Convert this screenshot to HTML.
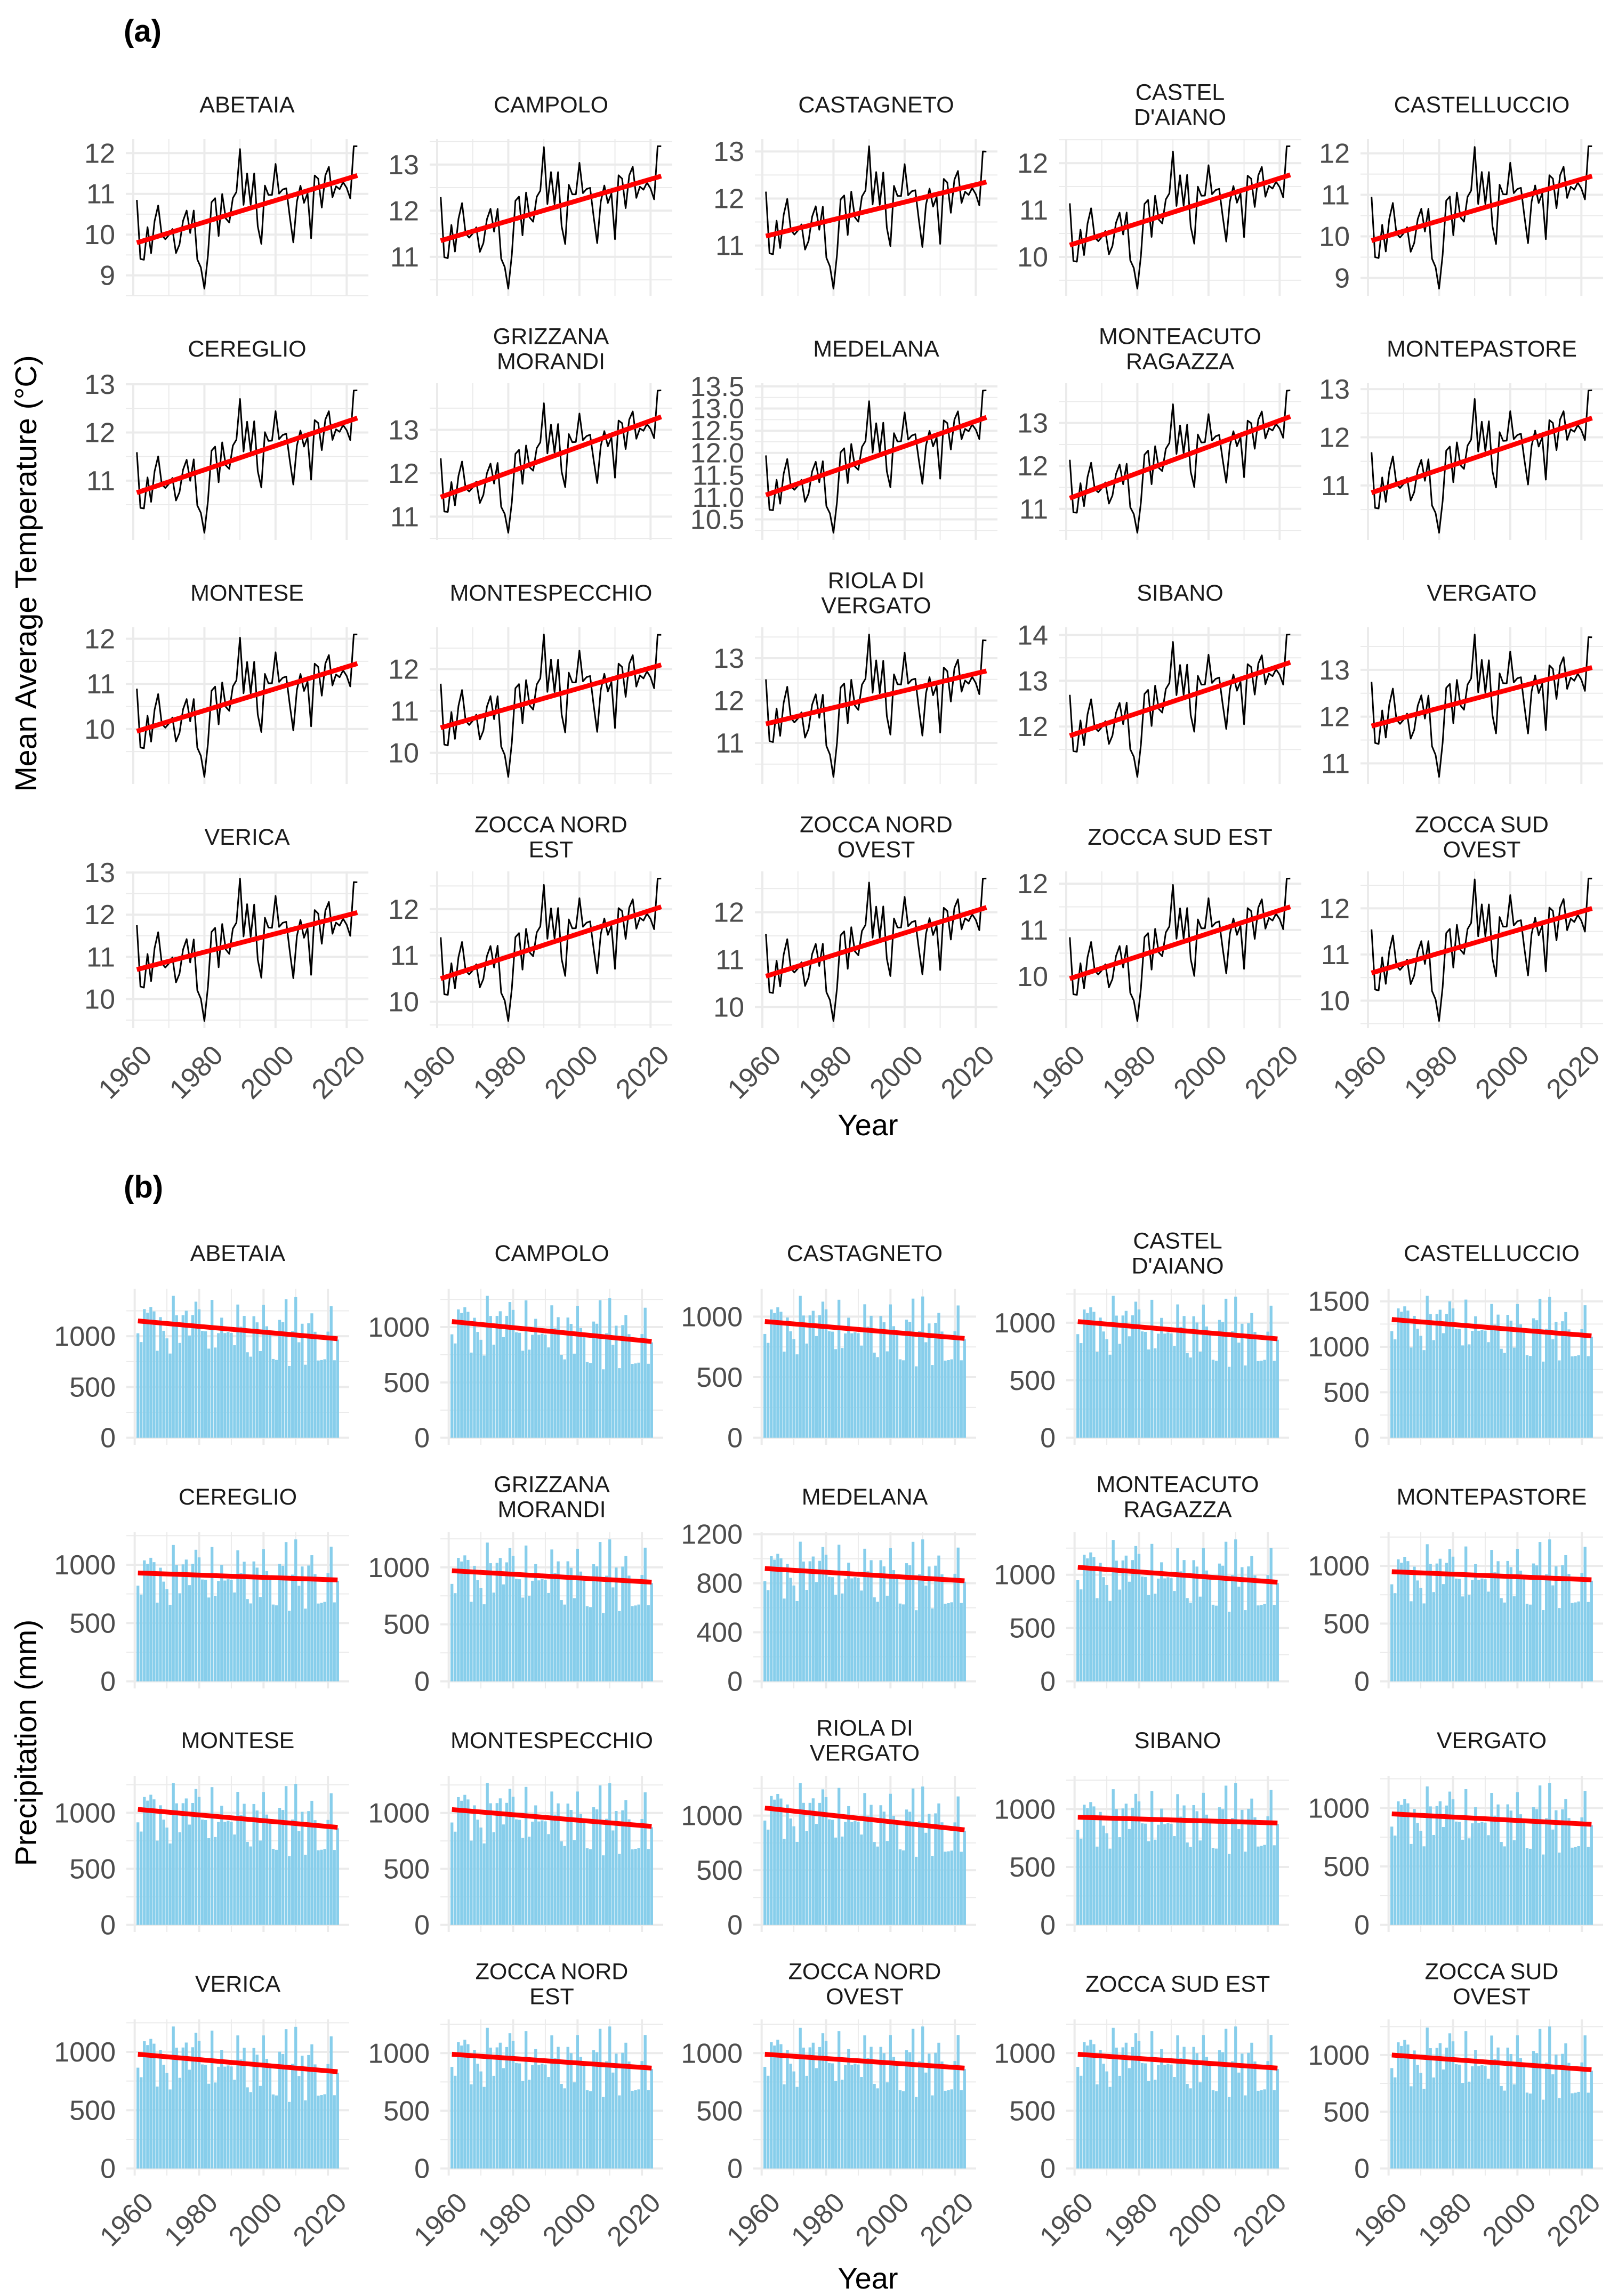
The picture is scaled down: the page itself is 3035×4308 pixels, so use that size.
<!DOCTYPE html>
<html><head><meta charset="utf-8"><style>
html,body{margin:0;padding:0;background:#fff}
svg{display:block;font-family:"Liberation Sans",Arial,sans-serif}
</style></head><body>
<svg id="fig" width="3035" height="4308" viewBox="0 0 3035 4308" xmlns="http://www.w3.org/2000/svg">
<rect width="3035" height="4308" fill="#fff"/>
<text x="232" y="78" font-size="58" font-weight="bold">(a)</text>
<text x="232" y="2247" font-size="58" font-weight="bold">(b)</text>
<text transform="translate(68,1076) rotate(-90)" text-anchor="middle" font-size="57">Mean Average Temperature (°C)</text>
<text transform="translate(68,3270) rotate(-90)" text-anchor="middle" font-size="57">Precipitation (mm)</text>
<text x="1628" y="2130" text-anchor="middle" font-size="56">Year</text>
<text x="1628" y="4294" text-anchor="middle" font-size="56">Year</text>
<g id="panels"></g>
</svg>
<script>
const stations = ["ABETAIA","CAMPOLO","CASTAGNETO","CASTEL\nD'AIANO","CASTELLUCCIO","CEREGLIO","GRIZZANA\nMORANDI","MEDELANA","MONTEACUTO\nRAGAZZA","MONTEPASTORE","MONTESE","MONTESPECCHIO","RIOLA DI\nVERGATO","SIBANO","VERGATO","VERICA","ZOCCA NORD\nEST","ZOCCA NORD\nOVEST","ZOCCA SUD EST","ZOCCA SUD\nOVEST"];
const firstYear = 1961;
// regional reference temperature series (ABETAIA, 1961-2023)
const regionalTemp = [10.87,9.42,9.40,10.2,9.56,10.35,10.73,10.0,9.9,10.0,10.15,9.56,9.77,10.35,10.6,10.05,10.6,9.4,9.2,8.68,9.5,10.8,10.9,9.97,11.0,10.4,10.3,10.9,11.05,12.1,10.73,11.5,10.73,11.5,10.2,9.77,11.2,10.97,10.97,11.73,11.0,11.1,11.13,10.43,9.8,10.8,11.19,10.77,11.0,9.9,11.44,11.36,10.65,11.44,11.65,10.9,11.17,11.1,11.27,11.13,10.87,12.15,12.15];
const tempStart = [9.8,11.35,11.2,10.25,9.9,10.75,11.45,11.05,11.25,10.85,9.95,10.6,11.45,11.8,11.8,10.7,10.5,10.65,9.95,10.6];
const tempEnd = [11.45,12.75,12.35,11.75,11.45,12.3,13.3,12.8,13.15,12.4,11.45,12.1,12.7,13.4,13.05,12.05,12.05,12.1,11.5,12.0];
const tempAmp = [1,0.9,0.9,0.85,1.0,0.8,0.85,0.85,0.85,0.8,0.9,1.0,1.0,0.85,0.9,1.0,0.85,0.85,0.85,0.9];
const tempTicks = [[9,10,11,12],[11,12,13],[11,12,13],[10,11,12],[9,10,11,12],[11,12,13],[11,12,13],[10.5,11.0,11.5,12.0,12.5,13.0,13.5],[11,12,13],[11,12,13],[10,11,12],[10,11,12,13],[10,11,12,13],[12,13,14],[11,12,13],[10,11,12,13],[10,11,12],[10,11,12,13],[10,11,12],[10,11,12,13]];
// regional reference precipitation (ABETAIA, mm, 1961-2023)
const regionalPrec = [1040,953,1277,1242,1297,1253,865,1196,1061,986,836,1404,1212,939,1212,1256,1010,1212,1343,1268,1055,1050,879,1358,889,1030,1182,1030,1040,1030,909,1309,1091,1196,838,794,1192,1131,848,1303,1091,1030,768,758,1152,1131,1355,697,1040,1374,929,1111,707,1116,1212,1030,747,751,758,1030,1280,747,950];
const precStart = [1150,1050,960,1010,1300,930,970,920,1070,950,1030,1030,1070,930,950,980,990,990,990,1000];
const precEnd = [975,870,820,860,1120,870,870,820,930,880,870,880,870,880,860,830,870,870,870,870];
const precAmp = [1,0.95,0.85,0.9,1.05,0.9,0.95,0.85,1.0,0.9,0.95,0.95,0.95,0.9,0.9,0.95,0.9,0.9,0.9,0.95];
const precTicks = [[0,500,1000],[0,500,1000],[0,500,1000],[0,500,1000],[0,500,1000,1500],[0,500,1000],[0,500,1000],[0,400,800,1200],[0,500,1000,1500],[0,500,1000],[0,500,1000],[0,500,1000],[0,500,1000],[0,500,1000],[0,500,1000],[0,500,1000],[0,500,1000],[0,500,1000],[0,500,1000],[0,500,1000]];
const yearTicks = [1960,1980,2000,2020];

const NS = "http://www.w3.org/2000/svg";
const root = document.getElementById("panels");
function mk(tag, attrs, parent){const e=document.createElementNS(NS,tag);for(const k in attrs)e.setAttribute(k,attrs[k]);(parent||root).appendChild(e);return e;}
function fit(ys){const n=ys.length;let sx=0,sy=0,sxx=0,sxy=0;for(let i=0;i<n;i++){sx+=i;sy+=ys[i];sxx+=i*i;sxy+=i*ys[i];}const b=(n*sxy-sx*sy)/(n*sxx-sx*sx);const a=(sy-b*sx)/n;return [a,b];}
function series(ref,s,start,end,amp){const f=fit(ref);const n=ref.length;const out=[];for(let i=0;i<n;i++){const an=ref[i]-(f[0]+f[1]*i);out.push(start[s]+(end[s]-start[s])*i/(n-1)+amp[s]*an);}return out;}

const tLeft=[236,806,1416,1986,2552], tW=455, tTop0=261, tPitch=458, tH=294;
const pLeft=[237,826,1413,2000,2589], pW=418, pTop0=2418, pPitch=457, pH=293;

function drawPanel(kind,s){
  const col=s%5,row=Math.floor(s/5);
  const isT=kind==="temp";
  const L=isT?tLeft[col]:pLeft[col], W=isT?tW:pW;
  const T=isT?tTop0+row*tPitch:pTop0+row*pPitch, H=isT?tH:pH;
  const vals=isT?series(regionalTemp,s,tempStart,tempEnd,tempAmp):series(regionalPrec,s,precStart,precEnd,precAmp);
  const n=vals.length;
  const g=mk("g",{});
  
  
  let x0,x1;
  if(isT){x0=firstYear-0.05*(n-1);x1=firstYear+(n-1)+0.05*(n-1);}
  else{const a=firstYear-0.45,b=firstYear+n-1+0.45;x0=a-0.05*(b-a);x1=b+0.05*(b-a);}
  let lo,hi;
  if(isT){lo=Math.min(...vals);hi=Math.max(...vals);}else{lo=0;hi=Math.max(...vals);}
  const r=hi-lo; const y0=lo-0.05*r,y1=hi+0.05*r;
  const X=v=>L+(v-x0)/(x1-x0)*W;
  const Y=v=>T+H-(v-y0)/(y1-y0)*H;
  const ticks=isT?tempTicks[s]:precTicks[s];
  const step=ticks[1]-ticks[0];
  for(let k=-1;k<ticks.length;k++){const v=ticks[0]+(k+0.5)*step;if(v>y0&&v<y1){const gl=mk("line",{x1:L,x2:L+W,y1:Y(v),y2:Y(v),stroke:"#ebebeb","stroke-width":2},g);}}
  for(const yr of [1970,1990,2010]){const gl=mk("line",{x1:X(yr),x2:X(yr),y1:T,y2:T+H,stroke:"#ebebeb","stroke-width":2},g);}
  for(const v of ticks){if(v<y0||v>y1)continue;const gl=mk("line",{x1:L,x2:L+W,y1:Y(v),y2:Y(v),stroke:"#ebebeb","stroke-width":4},g);
    const tl=mk("text",{x:L-20,y:Y(v)+18,"text-anchor":"end","font-size":52,fill:"#4d4d4d"},g);tl.textContent=(isT&&s===7)?v.toFixed(1):String(v);}
  for(const yr of yearTicks){const gl=mk("line",{x1:X(yr),x2:X(yr),y1:T,y2:T+H,stroke:"#ebebeb","stroke-width":4},g);
    if(row===3){const tx=X(yr)+12,ty=T+H+28;const tl=mk("text",{x:tx,y:ty,"text-anchor":"end","font-size":52,fill:"#4d4d4d","dominant-baseline":"hanging",transform:`rotate(-45 ${tx} ${ty})`},g);tl.textContent=yr;}}
  if(isT){
    let d="";vals.forEach((v,i)=>{d+=(i?"L":"M")+X(firstYear+i).toFixed(1)+","+Y(v).toFixed(1);});
    const p=mk("path",{d:d,fill:"none",stroke:"#000","stroke-width":3,"stroke-linejoin":"round"},g);
  } else {
    const bw=(X(1)-X(0))*0.88;
    vals.forEach((v,i)=>{const b=mk("rect",{x:X(firstYear+i)-bw/2,y:Y(v),width:bw,height:Y(0)-Y(v),fill:"#87ceeb"},g);});
  }
  const f=fit(vals);
  const tr=mk("line",{x1:X(firstYear),y1:Y(f[0]),x2:X(firstYear+n-1),y2:Y(f[0]+f[1]*(n-1)),stroke:"#ff0000","stroke-width":9,"stroke-linecap":"butt"},g);
  
  const lines=stations[s].split("\n");const cy=isT?196+row*tPitch:2351+row*pPitch;const cx=L+W/2;
  const st=mk("text",{x:cx,"text-anchor":"middle","font-size":43,fill:"#1a1a1a"},g);
  
  lines.forEach((ln,k)=>{const ts=mk("tspan",{x:cx,y:cy+15+(k-(lines.length-1)/2)*47},st);ts.textContent=ln;});
}
for(let s=0;s<20;s++){drawPanel("temp",s);drawPanel("prec",s);}
</script>
</body></html>
